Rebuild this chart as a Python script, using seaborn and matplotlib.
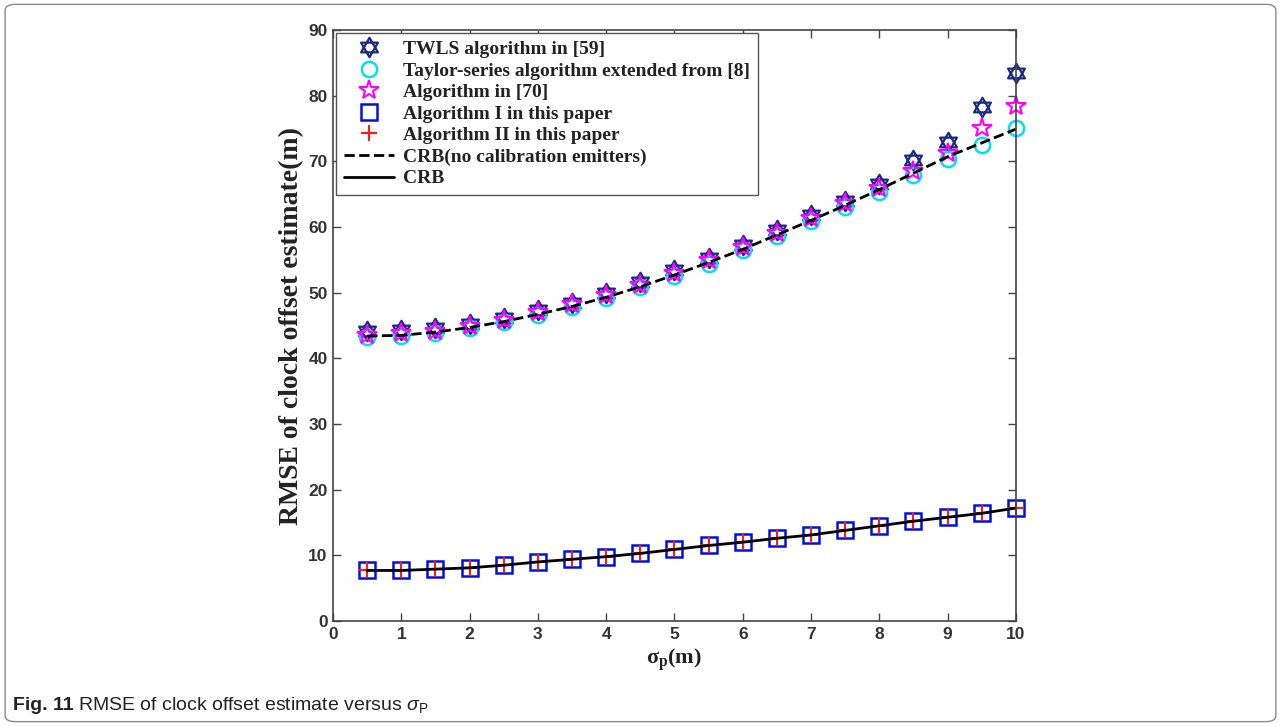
import numpy as np
import pandas as pd
import matplotlib
matplotlib.use("Agg")
import matplotlib.pyplot as plt
from matplotlib.patches import FancyBboxPatch
from matplotlib.path import Path
import seaborn as sns

# data
sigma_p = [0.5, 1, 1.5, 2, 2.5, 3, 3.5, 4, 4.5, 5, 5.5, 6, 6.5, 7, 7.5, 8, 8.5, 9, 9.5, 10]
twls = [44.2, 44.3, 44.6, 45.2, 46.1, 47.3, 48.5, 49.9, 51.6, 53.4,
        55.3, 57.3, 59.5, 61.8, 64.0, 66.5, 70.2, 73.0, 78.2, 83.5]
taylor = [43.2, 43.4, 43.9, 44.6, 45.5, 46.6, 47.8, 49.2, 50.8, 52.6,
          54.4, 56.5, 58.7, 60.9, 63.1, 65.4, 67.9, 70.4, 72.5, 75.0]
alg70 = [43.6, 43.8, 44.2, 44.9, 45.9, 47.0, 48.2, 49.6, 51.2, 53.0,
         54.9, 56.9, 59.1, 61.3, 63.6, 65.9, 68.6, 71.3, 75.0, 78.5]
crb_nocal = [43.4, 43.5, 44.0, 44.7, 45.6, 46.7, 47.9, 49.3, 50.9, 52.7,
             54.6, 56.6, 58.8, 61.0, 63.3, 65.7, 68.2, 70.7, 72.8, 74.9]
alg1 = [7.7, 7.7, 7.9, 8.1, 8.5, 9.0, 9.4, 9.8, 10.3, 10.9,
        11.5, 12.0, 12.6, 13.1, 13.8, 14.5, 15.2, 15.8, 16.4, 17.2]
alg2 = [7.7, 7.7, 7.9, 8.1, 8.5, 9.0, 9.4, 9.8, 10.3, 10.9,
        11.5, 12.0, 12.6, 13.1, 13.8, 14.5, 15.2, 15.8, 16.4, 17.2]
crb = [7.7, 7.7, 7.9, 8.1, 8.5, 9.0, 9.4, 9.8, 10.3, 10.9,
       11.5, 12.0, 12.6, 13.1, 13.8, 14.5, 15.2, 15.8, 16.4, 17.2]

labels = ["TWLS algorithm in [59]",
          "Taylor-series algorithm extended from [8]",
          "Algorithm in [70]",
          "Algorithm I in this paper",
          "Algorithm II in this paper",
          "CRB(no calibration emitters)",
          "CRB"]

sns.set_theme(style="ticks")
plt.rcParams["font.family"] = ["Liberation Serif", "DejaVu Serif"]
plt.rcParams["mathtext.fontset"] = "custom"
plt.rcParams["mathtext.rm"] = "Liberation Sans"
plt.rcParams["mathtext.bf"] = "Liberation Serif:bold"
plt.rcParams["mathtext.it"] = "Liberation Sans:italic"

fig = plt.figure(figsize=(12.81, 7.26), dpi=100)
ax = fig.add_axes([0.26, 0.1446, 0.533, 0.8141])

# outer rounded frame
frame = FancyBboxPatch((0.004, 0.006), 0.992, 0.988, boxstyle="round,pad=0,rounding_size=0.008",
                       transform=fig.transFigure, fill=False, edgecolor="#8a8a8a", linewidth=1.0)
fig.patches.append(frame)

# MATLAB-like hexagram: two overlapping triangles
hexagram = Path([(0, 1), (-0.866, -0.5), (0.866, -0.5), (0, 1),
                 (0, -1), (0.866, 0.5), (-0.866, 0.5), (0, -1)],
                [Path.MOVETO, Path.LINETO, Path.LINETO, Path.CLOSEPOLY,
                 Path.MOVETO, Path.LINETO, Path.LINETO, Path.CLOSEPOLY])

common = dict(linestyle="", markerfacecolor="none", clip_on=False, ax=ax)
sns.lineplot(x=sigma_p, y=twls, marker=hexagram, color="#1c2a80", markeredgecolor="#1c2a80",
             markersize=14, markeredgewidth=1.6, label=labels[0], **common)
sns.lineplot(x=sigma_p, y=taylor, marker="o", color="#00e0f0", markeredgecolor="#00e0f0",
             markersize=11, markeredgewidth=1.8, label=labels[1], **common)
sns.lineplot(x=sigma_p, y=alg70, marker="*", color="#ff00ff", markeredgecolor="#ff00ff",
             markersize=15, markeredgewidth=1.5, label=labels[2], **common)
sns.lineplot(x=sigma_p, y=alg1, marker="s", color="#0010e0", markeredgecolor="#0010e0",
             markersize=11, markeredgewidth=1.8, label=labels[3], **common)
sns.lineplot(x=sigma_p, y=alg2, marker="+", color="#ff1a1a", markeredgecolor="#ff1a1a",
             markersize=11, markeredgewidth=1.5, label=labels[4], **common)
sns.lineplot(x=sigma_p, y=crb_nocal, color="black", linestyle="--", linewidth=2,
             label=labels[5], ax=ax)
sns.lineplot(x=sigma_p, y=crb, color="black", linestyle="-", linewidth=2,
             label=labels[6], ax=ax)

ax.set_xlim(0, 10)
ax.set_ylim(0, 90)
ax.set_xticks(range(0, 11))
ax.set_yticks(range(0, 91, 10))
ax.tick_params(direction="in", top=True, right=True, length=6, width=1,
               color="#444444", pad=4)
for lab in ax.get_xticklabels() + ax.get_yticklabels():
    lab.set_fontfamily("Liberation Sans")
    lab.set_fontweight("bold")
    lab.set_fontsize(12.5)
    lab.set_color("#333333")
for sp in ax.spines.values():
    sp.set_color("#444444")
    sp.set_linewidth(1.2)

ax.set_xlabel("σ$_\\mathbf{p}$(m)", fontsize=16, fontweight="bold", color="#222222", labelpad=4)
ax.set_ylabel("RMSE of clock offset estimate(m)", fontsize=20, fontweight="bold",
              color="#222222", labelpad=3)

leg = ax.legend(loc="upper left", frameon=True, fancybox=False,
                framealpha=1, edgecolor="#555555", borderaxespad=0.15,
                handlelength=2.6, handletextpad=0.45, labelspacing=0.2,
                prop={"family": "Liberation Serif", "weight": "bold", "size": 14})
leg.get_frame().set_linewidth(1.0)
for t in leg.get_texts():
    t.set_color("#222222")

fig.text(0.010, 0.022, "Fig. 11", fontsize=14, fontweight="bold",
         family="Liberation Sans", color="#222222")
fig.text(0.061, 0.022, "RMSE of clock offset estimate versus $\\it{σ}_{\\mathrm{P}}$",
         fontsize=14, family="Liberation Sans", color="#222222")

fig.savefig("out.png", dpi=100)
